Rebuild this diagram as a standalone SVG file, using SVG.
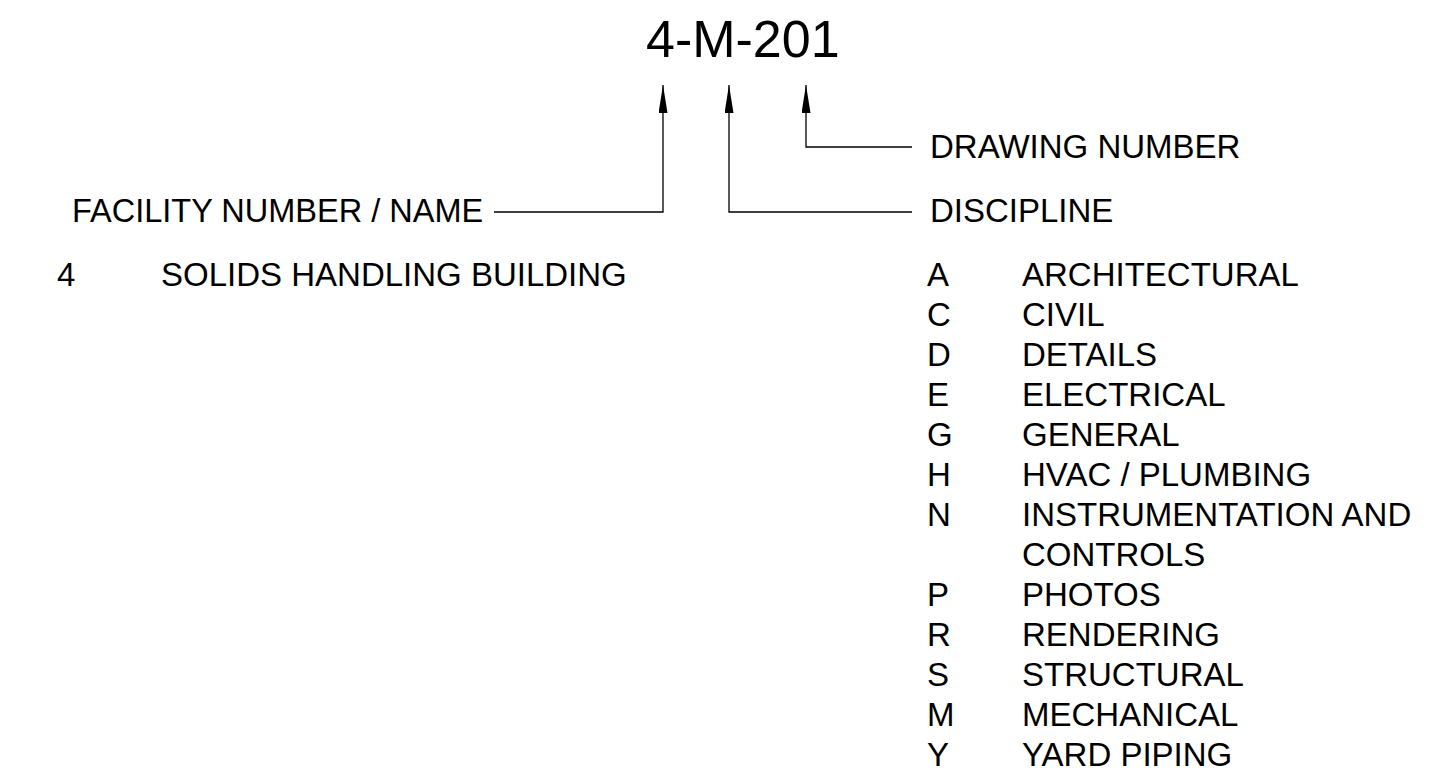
<svg xmlns="http://www.w3.org/2000/svg" width="1450" height="782" viewBox="0 0 1450 782">
<style>
text{font-family:"Liberation Sans",Arial,sans-serif;fill:#000}
.t{font-size:33px}
.f{font-size:32.5px}
.title{font-size:52px}
.ln{fill:none;stroke:#000;stroke-width:1.3}
</style>
<defs>
<marker id="ah" viewBox="0 0 28 9" refX="28" refY="4.5" markerWidth="28" markerHeight="9" markerUnits="userSpaceOnUse" orient="auto">
<path d="M0,0 L28,4.5 L0,9 Z" fill="#000"/>
</marker>
</defs>
<rect width="1450" height="782" fill="#fff"/>
<g id="title"><text class="title" x="646" y="57">4-M-201</text></g>
<g id="connectors">
<path class="ln" d="M494,212 H663 V85" marker-end="url(#ah)"/>
<path class="ln" d="M912,212 H729 V85" marker-end="url(#ah)"/>
<path class="ln" d="M912,147 H806 V85" marker-end="url(#ah)"/>
</g>
<g id="facility">
<text class="f" x="72" y="222">FACILITY NUMBER / NAME</text>
<text class="t" x="57" y="286">4</text>
<text class="t" x="161" y="286">SOLIDS HANDLING BUILDING</text>
</g>
<g id="drawing-number"><text class="t" x="930" y="158">DRAWING NUMBER</text></g>
<g id="discipline">
<text class="t" x="930" y="222">DISCIPLINE</text>
<text class="t" x="927" y="286">A</text><text class="t" x="1022" y="286">ARCHITECTURAL</text>
<text class="t" x="927" y="326">C</text><text class="t" x="1022" y="326">CIVIL</text>
<text class="t" x="927" y="366">D</text><text class="t" x="1022" y="366">DETAILS</text>
<text class="t" x="927" y="406">E</text><text class="t" x="1022" y="406">ELECTRICAL</text>
<text class="t" x="927" y="446">G</text><text class="t" x="1022" y="446">GENERAL</text>
<text class="t" x="927" y="486">H</text><text class="t" x="1022" y="486">HVAC / PLUMBING</text>
<text class="t" x="927" y="526">N</text><text class="t" x="1022" y="526">INSTRUMENTATION AND</text>
<text class="t" x="1022" y="566">CONTROLS</text>
<text class="t" x="927" y="606">P</text><text class="t" x="1022" y="606">PHOTOS</text>
<text class="t" x="927" y="646">R</text><text class="t" x="1022" y="646">RENDERING</text>
<text class="t" x="927" y="686">S</text><text class="t" x="1022" y="686">STRUCTURAL</text>
<text class="t" x="927" y="726">M</text><text class="t" x="1022" y="726">MECHANICAL</text>
<text class="t" x="927" y="766">Y</text><text class="t" x="1022" y="766">YARD PIPING</text>
</g>
</svg>
